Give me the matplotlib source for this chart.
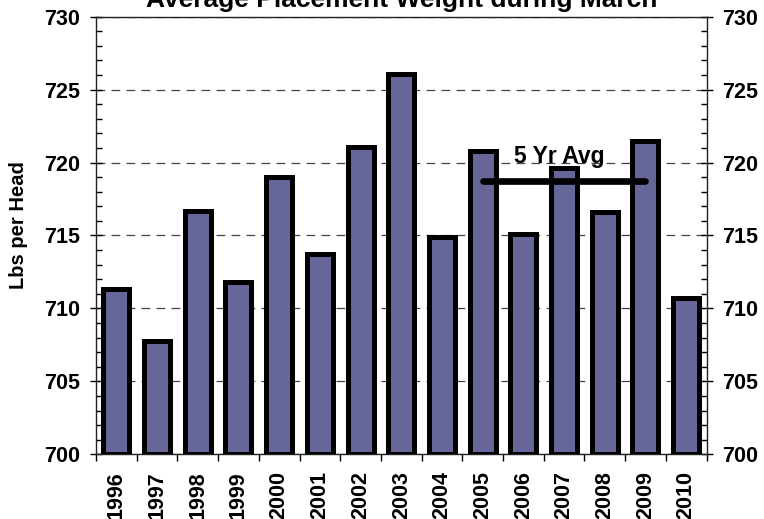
import matplotlib.pyplot as plt
import numpy as np
from matplotlib.ticker import MultipleLocator, FixedLocator

plt.rcParams['font.family'] = ['Liberation Sans', 'DejaVu Sans']
plt.rcParams['font.weight'] = 'bold'

years = ['1996', '1997', '1998', '1999', '2000', '2001', '2002', '2003',
         '2004', '2005', '2006', '2007', '2008', '2009', '2010']
weights = [711.3, 707.8, 716.7, 711.8, 719.0, 713.7, 721.1, 726.1,
           714.9, 720.8, 715.1, 719.6, 716.6, 721.5, 710.7]
avg_years = ['2005', '2006', '2007', '2008', '2009']

fig = plt.figure(figsize=(7.64, 5.19), dpi=100)
ax = fig.add_axes([96 / 764, 1 - 454.3 / 519, 610.5 / 764, 437.6 / 519])

x = np.arange(len(years))
ax.bar(x, np.array(weights) - 700, bottom=700, width=0.64,
       color='#666699', edgecolor='black', linewidth=3.6, zorder=3)

# 5 year average line
i0 = years.index(avg_years[0])
i1 = years.index(avg_years[-1])
avg = np.mean(weights[i0:i1 + 1])
ax.plot([i0, i1], [avg, avg], color='black', lw=4.8, solid_capstyle='round', zorder=4)
ax.text((i0 + i1) / 2 - 0.12, 720.0, '5 Yr Avg', ha='center', va='baseline',
        fontsize=16.5, fontweight='bold', zorder=5)

ax.set_xlim(-0.5, len(years) - 0.5)
ax.set_ylim(700, 730)
ax.yaxis.set_major_locator(MultipleLocator(5))
ax.yaxis.set_minor_locator(MultipleLocator(1))
ax.grid(axis='y', which='major', linestyle=(0, (7, 5)), color='#444444', lw=0.9, zorder=1)

ax.set_xticks(x)
ax.set_xticklabels(years, rotation=90, fontsize=15.5, fontweight='bold')
ax.xaxis.set_minor_locator(FixedLocator(np.arange(-0.5, len(years), 1)))
ax.tick_params(axis='x', which='major', length=0, pad=12)
ax.tick_params(axis='x', which='minor', length=5, width=1, direction='out')

ax.tick_params(axis='y', which='major', length=8.6, width=1, direction='inout',
               left=True, right=True, labelleft=True, labelright=True,
               labelsize=15.5, pad=7)
ax.tick_params(axis='y', which='minor', length=4, width=1, direction='in',
               left=True, right=True)
for lab in ax.get_yticklabels():
    lab.set_fontweight('bold')

for s in ax.spines.values():
    s.set_linewidth(1)
    s.set_color('#222222')

ax.set_ylabel('Lbs per Head', fontsize=14.5, fontweight='bold')
ax.yaxis.set_label_coords(-0.112, 0.524)

fig.text((96 + 706.5) / 2 / 764, 1 - 7.5 / 519, 'Average Placement Weight during March',
         ha='center', va='baseline', fontsize=19, fontweight='bold')

fig.savefig('out.png', dpi=100)
